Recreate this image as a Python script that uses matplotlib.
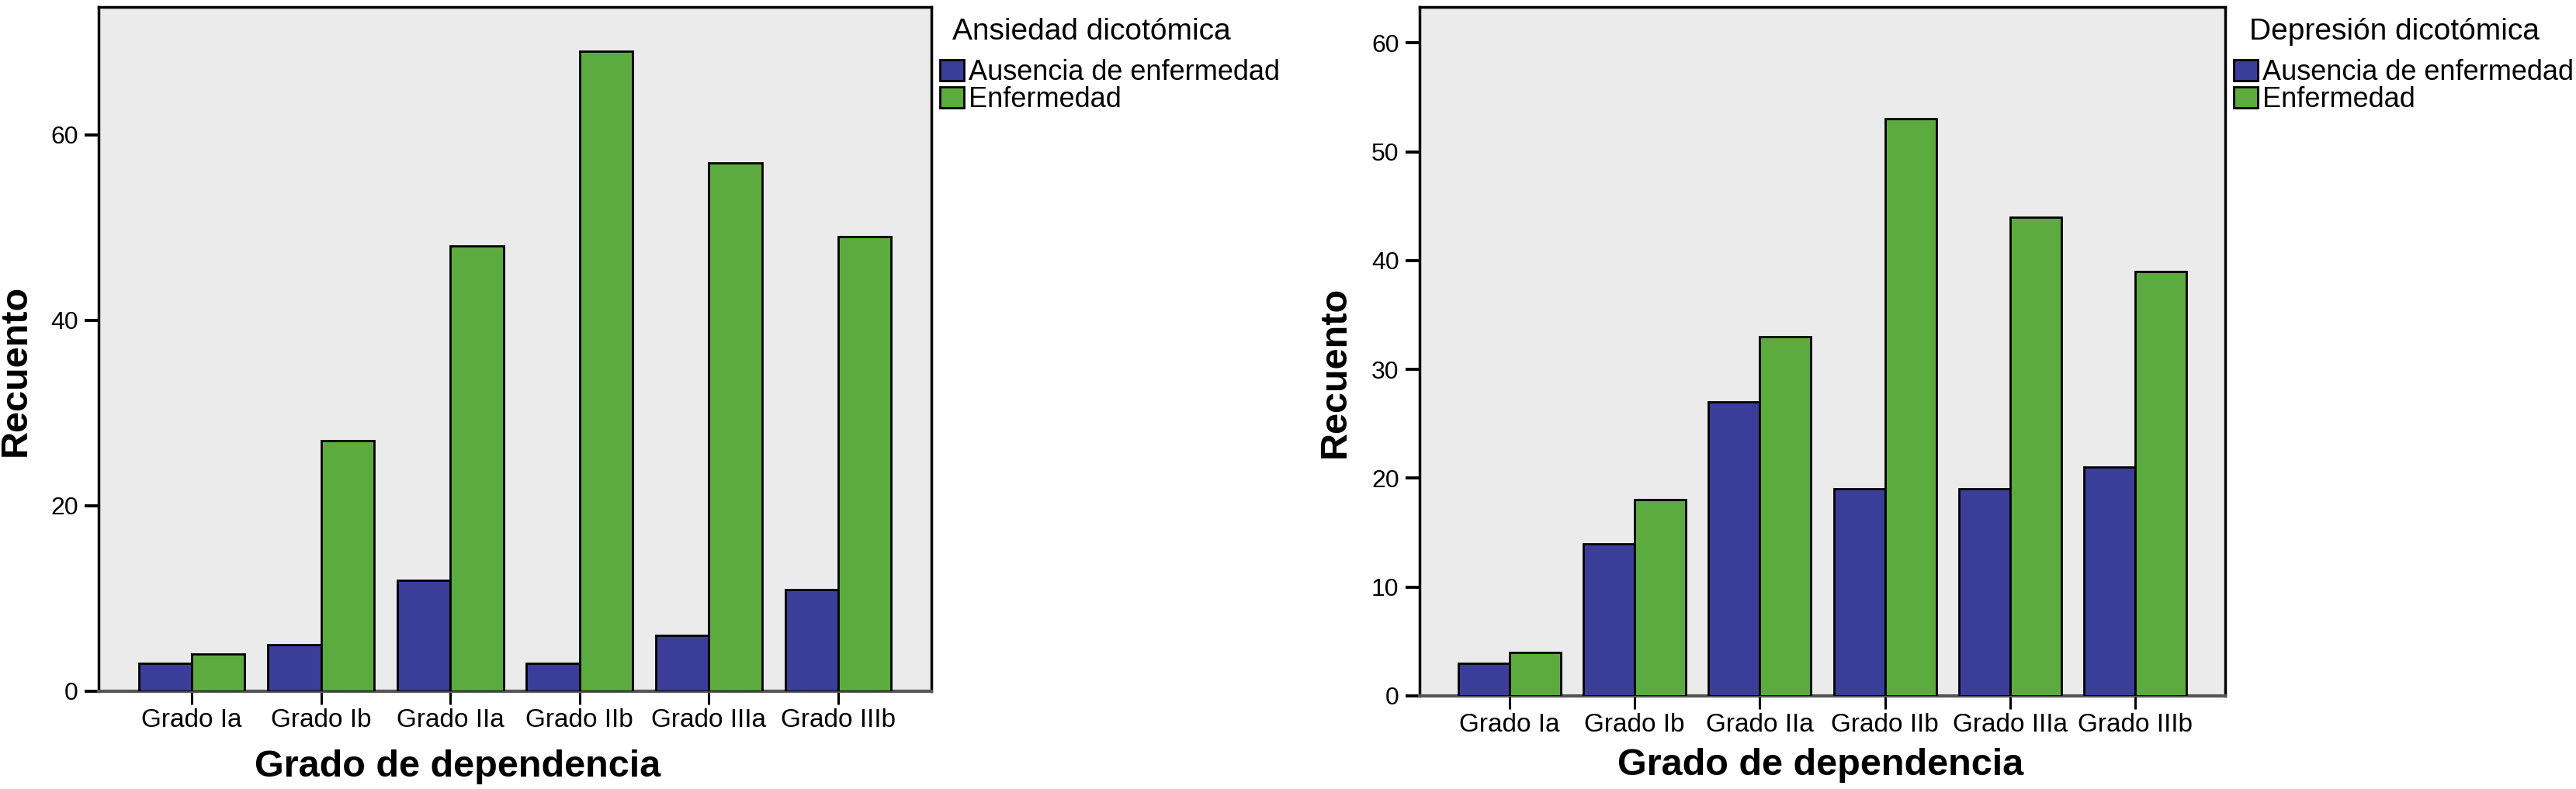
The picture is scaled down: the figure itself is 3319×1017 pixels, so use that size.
import matplotlib
matplotlib.use('Agg')
import matplotlib.pyplot as plt
import numpy as np

plt.rcParams['font.family'] = ['Liberation Sans', 'DejaVu Sans']

grados = ['Grado Ia', 'Grado Ib', 'Grado IIa', 'Grado IIb', 'Grado IIIa', 'Grado IIIb']
series = ['Ausencia de enfermedad', 'Enfermedad']

ansiedad_ausencia = [3, 5, 12, 3, 6, 11]
ansiedad_enfermedad = [4, 27, 48, 69, 57, 49]

depresion_ausencia = [3, 14, 27, 19, 19, 21]
depresion_enfermedad = [4, 18, 33, 53, 44, 39]

azul = '#3b3e98'
verde = '#5cab3f'
fondo = '#ebebeb'

W, H = 3319, 1017
fig = plt.figure(figsize=(W / 100, H / 100), dpi=100)

# posiciones en pixeles del original
ax1 = fig.add_axes([127 / W, 1 - 891 / H, (1200 - 127) / W, (891 - 9) / H])
ax2 = fig.add_axes([1829 / W, 1 - 897 / H, (2867 - 1829) / W, (897 - 9) / H])


def dibujar(ax, ausencia, enfermedad, ymax, yticks, titulo, xlab, ylab, leg_x, tit_x):
    x = np.arange(len(grados))
    w = 0.41
    ax.set_facecolor(fondo)
    ax.bar(x - w / 2, ausencia, w, color=azul, edgecolor='black', linewidth=2, label=series[0], zorder=3)
    ax.bar(x + w / 2, enfermedad, w, color=verde, edgecolor='black', linewidth=2, label=series[1], zorder=3)
    ax.set_xlim(-0.72, 5.72)
    ax.set_ylim(0, ymax)
    ax.set_xticks(x)
    ax.set_xticklabels(grados, fontsize=24)
    ax.set_yticks(yticks)
    ax.tick_params(axis='y', labelsize=23, length=13, width=2.8, pad=6)
    ax.tick_params(axis='x', length=12, width=2.2, pad=4)
    for s in ax.spines.values():
        s.set_linewidth(2.5)
        s.set_color('black')
    ax.spines['bottom'].set_color('#555555')
    ax.spines['bottom'].set_linewidth(3)
    ax.set_xlabel('Grado de dependencia', fontsize=35, fontweight='bold')
    ax.set_ylabel('Recuento', fontsize=35, fontweight='bold')
    ax.xaxis.label.set_va('center')
    ax.yaxis.label.set_va('center')
    ax.xaxis.set_label_coords(*xlab)
    ax.yaxis.set_label_coords(*ylab)
    # titulo de la leyenda aparte, un poco sangrado respecto a los cuadros
    fig.text(tit_x / W, 1 - 41 / H, titulo, fontsize=28, va='center', ha='left')
    leg = ax.legend(loc='upper left', bbox_to_anchor=(leg_x / W, 1 - 76 / H),
                    bbox_transform=fig.transFigure, frameon=False, fontsize=26,
                    borderpad=0, handlelength=0.85, handleheight=0.78, handletextpad=0.18,
                    labelspacing=0.0, borderaxespad=0)
    for h in leg.legend_handles:
        h.set_linewidth(2)


dibujar(ax1, ansiedad_ausencia, ansiedad_enfermedad, 73.8, [0, 20, 40, 60],
        'Ansiedad dicotómica', (0.431, -0.110), (-0.0997, 0.469), 1211, 1227)
dibujar(ax2, depresion_ausencia, depresion_enfermedad, 63.3, [0, 10, 20, 30, 40, 50, 60],
        'Depresión dicotómica', (0.498, -0.101), (-0.105, 0.47), 2878, 2898)

fig.savefig('out.png', dpi=100, facecolor='white')
